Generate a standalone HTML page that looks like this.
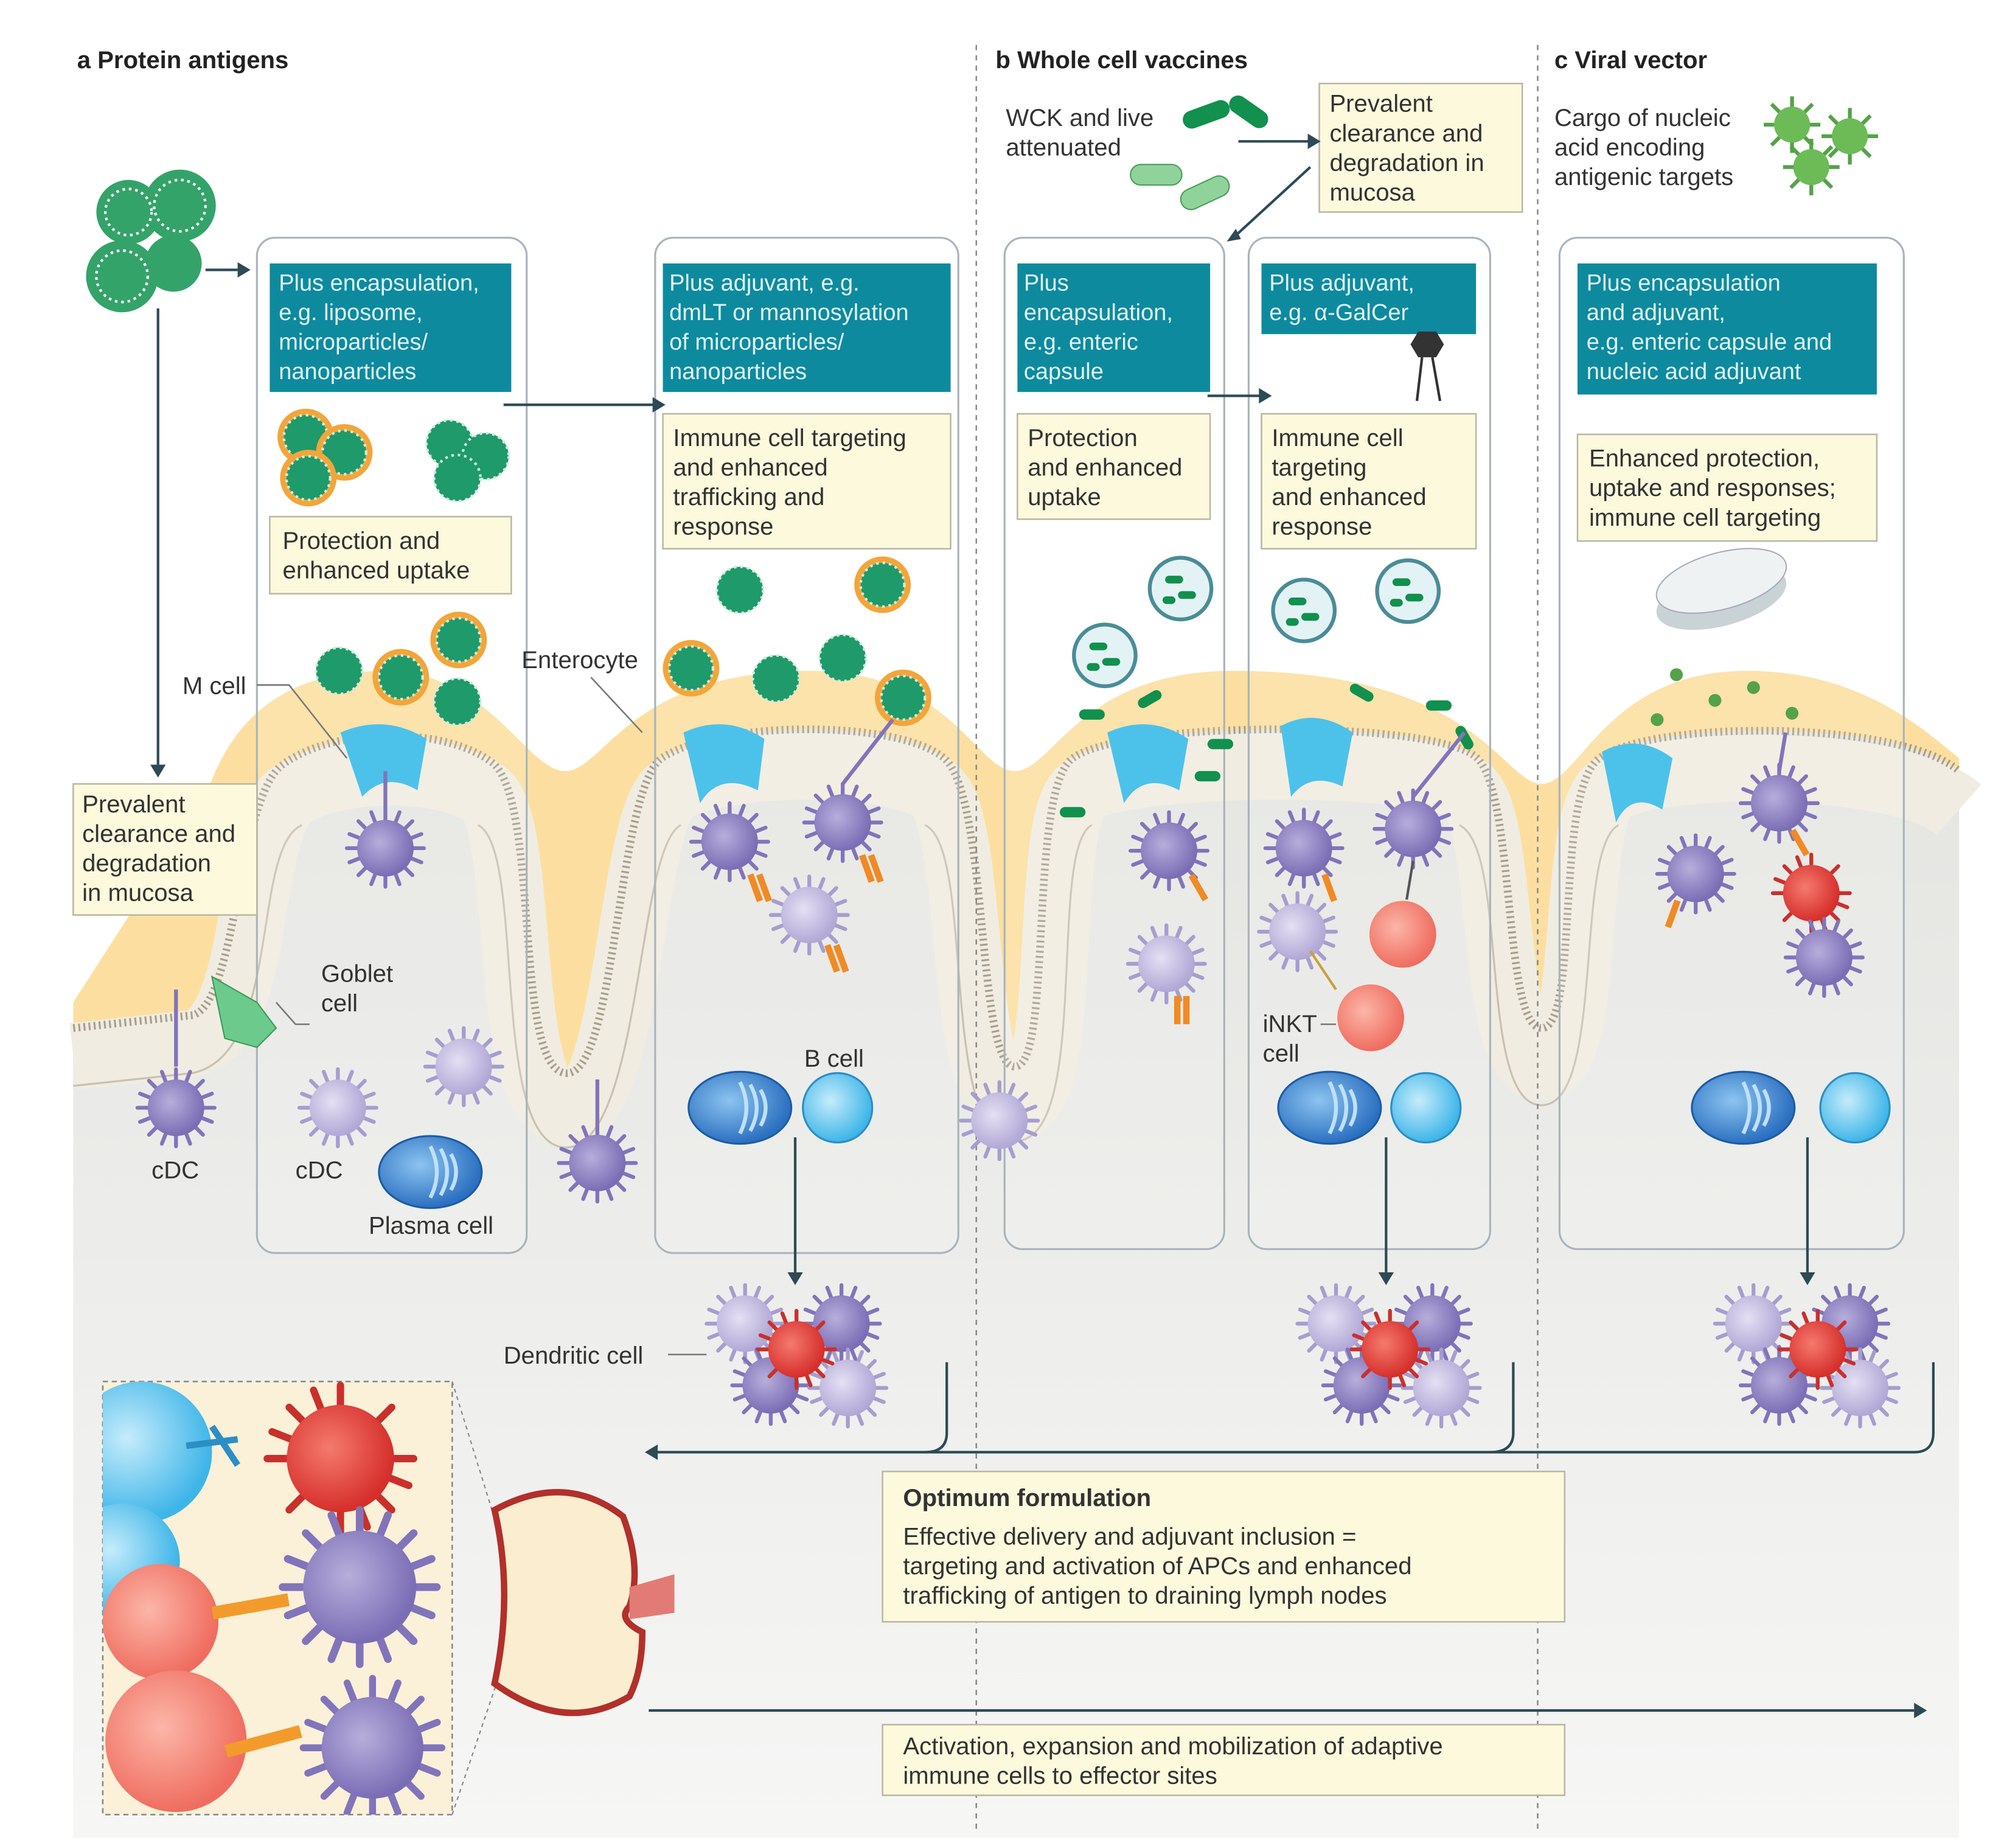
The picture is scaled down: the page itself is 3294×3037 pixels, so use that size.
<!DOCTYPE html>
<html><head><meta charset="utf-8"><style>
html,body{margin:0;padding:0;background:#fff;}
svg{display:block;}
text{font-family:"Liberation Sans",sans-serif;}
</style></head><body>
<svg width="3294" height="3037" viewBox="0 0 1560 1438" preserveAspectRatio="none" xmlns="http://www.w3.org/2000/svg">
<defs>
<linearGradient id="bg" x1="0" y1="0" x2="0" y2="1"><stop offset="0" stop-color="#e4e5e1"/><stop offset="1" stop-color="#f6f6f5"/></linearGradient>
<radialGradient id="dc" cx="0.4" cy="0.4" r="0.6"><stop offset="0" stop-color="#b7aedb"/><stop offset="1" stop-color="#7b6db5"/></radialGradient>
<radialGradient id="dcl" cx="0.4" cy="0.4" r="0.6"><stop offset="0" stop-color="#e4e0f3"/><stop offset="1" stop-color="#b1a8d6"/></radialGradient>
<radialGradient id="red" cx="0.4" cy="0.4" r="0.6"><stop offset="0" stop-color="#f47a6e"/><stop offset="1" stop-color="#d62f2b"/></radialGradient>
<radialGradient id="pink" cx="0.4" cy="0.4" r="0.6"><stop offset="0" stop-color="#fbb6a8"/><stop offset="1" stop-color="#ef6d60"/></radialGradient>
<radialGradient id="bl" cx="0.4" cy="0.4" r="0.6"><stop offset="0" stop-color="#c6ecfb"/><stop offset="1" stop-color="#3eb5e8"/></radialGradient>
<radialGradient id="pl" cx="0.4" cy="0.4" r="0.6"><stop offset="0" stop-color="#8cc4f0"/><stop offset="1" stop-color="#2b6fc0"/></radialGradient>
<g id="DC"><g stroke="#8174bb" stroke-width="3" stroke-linecap="round"><line x1="-30" y1="0" x2="30" y2="0"/><line x1="0" y1="-30" x2="0" y2="30"/><line x1="-21" y1="-21" x2="21" y2="21"/><line x1="-21" y1="21" x2="21" y2="-21"/><line x1="-11" y1="-28" x2="11" y2="28"/><line x1="-28" y1="-11" x2="28" y2="11"/><line x1="11" y1="-28" x2="-11" y2="28"/><line x1="28" y1="-11" x2="-28" y2="11"/></g><circle r="22" fill="url(#dc)"/></g>
<g id="DCL"><g stroke="#a69dd0" stroke-width="3" stroke-linecap="round"><line x1="-30" y1="0" x2="30" y2="0"/><line x1="0" y1="-30" x2="0" y2="30"/><line x1="-21" y1="-21" x2="21" y2="21"/><line x1="-21" y1="21" x2="21" y2="-21"/><line x1="-11" y1="-28" x2="11" y2="28"/><line x1="-28" y1="-11" x2="28" y2="11"/><line x1="11" y1="-28" x2="-11" y2="28"/><line x1="28" y1="-11" x2="-28" y2="11"/></g><circle r="22" fill="url(#dcl)"/></g>
<g id="DCR"><g stroke="#c9302c" stroke-width="3" stroke-linecap="round"><line x1="-30" y1="0" x2="30" y2="0"/><line x1="0" y1="-30" x2="0" y2="30"/><line x1="-21" y1="-21" x2="21" y2="21"/><line x1="-21" y1="21" x2="21" y2="-21"/><line x1="-11" y1="-28" x2="11" y2="28"/><line x1="-28" y1="-11" x2="28" y2="11"/></g><circle r="22" fill="url(#red)"/></g>
<g id="NP"><circle r="22" fill="#f2a53a"/><circle r="17" fill="#1f9a6a"/><circle r="17" fill="none" stroke="#cfeee0" stroke-width="2" stroke-dasharray="2 3"/></g>
<g id="NPG"><circle r="18" fill="#1f9a6a"/><circle r="18" fill="none" stroke="#cfeee0" stroke-width="2" stroke-dasharray="2 3"/></g>
<g id="CAP"><circle r="24" fill="#e3f3f5" stroke="#4a8c97" stroke-width="3"/><rect x="-12" y="-10" width="14" height="6" rx="3" fill="#11904e"/><rect x="-2" y="2" width="14" height="6" rx="3" fill="#11904e"/><rect x="-14" y="6" width="10" height="6" rx="3" fill="#11904e"/></g>
<g id="BC"><circle r="27" fill="url(#bl)" stroke="#2b8fc6" stroke-width="1.5"/></g>
<g id="PC"><ellipse rx="40" ry="28" fill="url(#pl)" stroke="#1c5ca6" stroke-width="1.5"/><path d="M0,-20 q10,20 0,40 M8,-18 q10,18 0,36 M16,-14 q8,14 0,28" stroke="#bfe0fb" stroke-width="3" fill="none"/></g>
<g id="VIR"><g stroke="#55a24a" stroke-width="3"><line x1="-22" y1="0" x2="22" y2="0"/><line x1="0" y1="-22" x2="0" y2="22"/><line x1="-16" y1="-16" x2="16" y2="16"/><line x1="-16" y1="16" x2="16" y2="-16"/></g><circle r="14" fill="#6dbb57"/></g>
</defs>

<!-- mucus -->
<path d="M160,620 C180,560 220,522 300,522 C380,522 410,600 440,600 C470,600 490,522 630,522 C740,522 760,600 790,600 C820,600 840,522 960,522 C1150,522 1170,610 1200,610 C1230,610 1250,522 1360,522 C1450,522 1500,570 1525,590 L1525,900 L57,900 L57,780 Z" fill="#fcdfa0"/>
<!-- tissue below apical surface -->
<path d="M57,800 L150,790 C185,780 185,620 220,595 C260,565 350,565 385,595 C420,630 400,830 440,835 C480,840 480,615 515,590 C560,560 700,560 735,590 C770,620 760,830 790,830 C820,830 800,615 835,590 C875,560 1120,560 1150,590 C1180,620 1170,800 1200,800 C1230,800 1210,615 1245,590 C1285,560 1480,560 1525,600 L1525,1430 L57,1430 Z" fill="url(#bg)"/>
<!-- epithelium -->
<path d="M57,822 L150,812 C205,800 190,640 228,618 C265,595 345,595 378,618 C410,645 390,860 440,865 C490,870 490,640 522,615 C565,590 695,590 728,615 C760,640 745,860 790,860 C835,860 810,640 842,615 C880,590 1115,590 1143,615 C1172,640 1160,830 1200,830 C1240,830 1222,640 1252,615 C1290,590 1480,590 1525,630" fill="none" stroke="#f1ece1" stroke-width="52"/>
<path d="M57,800 L150,790 C185,780 185,620 220,595 C260,565 350,565 385,595 C420,630 400,830 440,835 C480,840 480,615 515,590 C560,560 700,560 735,590 C770,620 760,830 790,830 C820,830 800,615 835,590 C875,560 1120,560 1150,590 C1180,620 1170,800 1200,800 C1230,800 1210,615 1245,590 C1285,560 1480,560 1525,600" fill="none" stroke="#a89f8e" stroke-width="6" stroke-dasharray="1.5 2.5"/>
<path d="M57,845 L150,835 C220,820 195,660 235,642 M372,642 C410,660 380,890 440,893 C500,893 495,660 530,642 M720,642 C760,660 730,888 790,888 C850,888 815,660 850,642 M1136,642 C1175,660 1150,860 1200,860 C1250,860 1225,660 1260,642" fill="none" stroke="#c9c1b0" stroke-width="1.5"/>

<!-- dashed dividers -->
<line x1="760" y1="35" x2="760" y2="1425" stroke="#888" stroke-width="1.2" stroke-dasharray="4 4"/>
<line x1="1197" y1="35" x2="1197" y2="1425" stroke="#888" stroke-width="1.2" stroke-dasharray="4 4"/>

<!-- panel columns -->
<g fill="#ffffff" fill-opacity="0.12" stroke="#a9b4bb" stroke-width="1.5">
<rect x="200" y="185" width="210" height="790" rx="14"/>
<rect x="510" y="185" width="236" height="790" rx="14"/>
<rect x="782" y="185" width="171" height="787" rx="14"/>
<rect x="972" y="185" width="188" height="787" rx="14"/>
<rect x="1214" y="185" width="268" height="787" rx="14"/>
</g>

<!-- headers -->
<g font-size="19" font-weight="bold" fill="#222">
<text x="60" y="53">a  Protein antigens</text>
<text x="775" y="53">b  Whole cell vaccines</text>
<text x="1210" y="53">c  Viral vector</text>
</g>

<!-- teal boxes -->
<g fill="#0e8a9e">
<rect x="210" y="205" width="188" height="100"/>
<rect x="516" y="205" width="224" height="100"/>
<rect x="792" y="205" width="150" height="100"/>
<rect x="982" y="205" width="167" height="55"/>
<rect x="1228" y="205" width="233" height="102"/>
</g>
<g font-size="18" fill="#dff4f6" font-family="Liberation Serif">
<text x="217" y="226">Plus encapsulation,</text><text x="217" y="249">e.g. liposome,</text><text x="217" y="272">microparticles/</text><text x="217" y="295">nanoparticles</text>
<text x="521" y="226">Plus adjuvant, e.g.</text><text x="521" y="249">dmLT or mannosylation</text><text x="521" y="272">of microparticles/</text><text x="521" y="295">nanoparticles</text>
<text x="797" y="226">Plus</text><text x="797" y="249">encapsulation,</text><text x="797" y="272">e.g. enteric</text><text x="797" y="295">capsule</text>
<text x="988" y="226">Plus adjuvant,</text><text x="988" y="249">e.g. α-GalCer</text>
<text x="1235" y="226">Plus encapsulation</text><text x="1235" y="249">and adjuvant,</text><text x="1235" y="272">e.g. enteric capsule and</text><text x="1235" y="295">nucleic acid adjuvant</text>
</g>
<!-- alpha-galcer glyph -->
<polygon points="1104,258 1118,258 1124,268 1118,278 1104,278 1098,268" fill="#333"/>
<path d="M1107,278 L1103,312 M1115,278 L1121,312" stroke="#333" stroke-width="2"/>

<!-- yellow boxes -->
<g fill="#fcf9dd" stroke="#b9b7a5" stroke-width="1.2">
<rect x="1027" y="65" width="158" height="100"/>
<rect x="210" y="402" width="188" height="60"/>
<rect x="516" y="322" width="224" height="105"/>
<rect x="792" y="322" width="150" height="82"/>
<rect x="982" y="322" width="167" height="105"/>
<rect x="1228" y="338" width="233" height="83"/>
<rect x="57" y="610" width="143" height="102"/>
<rect x="687" y="1145" width="531" height="117"/>
<rect x="687" y="1342" width="531" height="55"/>
</g>
<g font-size="19" fill="#333">
<text x="1035" y="87">Prevalent</text><text x="1035" y="110">clearance and</text><text x="1035" y="133">degradation in</text><text x="1035" y="156">mucosa</text>
<text x="220" y="427">Protection and</text><text x="220" y="450">enhanced uptake</text>
<text x="524" y="347">Immune cell targeting</text><text x="524" y="370">and enhanced</text><text x="524" y="393">trafficking and</text><text x="524" y="416">response</text>
<text x="800" y="347">Protection</text><text x="800" y="370">and enhanced</text><text x="800" y="393">uptake</text>
<text x="990" y="347">Immune cell</text><text x="990" y="370">targeting</text><text x="990" y="393">and enhanced</text><text x="990" y="416">response</text>
<text x="1237" y="363">Enhanced protection,</text><text x="1237" y="386">uptake and responses;</text><text x="1237" y="409">immune cell targeting</text>
<text x="64" y="632">Prevalent</text><text x="64" y="655">clearance and</text><text x="64" y="678">degradation</text><text x="64" y="701">in mucosa</text>
<text x="703" y="1172" font-weight="bold">Optimum formulation</text>
<text x="703" y="1202">Effective delivery and adjuvant inclusion =</text><text x="703" y="1225">targeting and activation of APCs and enhanced</text><text x="703" y="1248">trafficking of antigen to draining lymph nodes</text>
<text x="703" y="1365">Activation, expansion and mobilization of adaptive</text><text x="703" y="1388">immune cells to effector sites</text>
<text x="783" y="98">WCK and live</text><text x="783" y="121">attenuated</text>
<text x="1210" y="98">Cargo of nucleic</text><text x="1210" y="121">acid encoding</text><text x="1210" y="144">antigenic targets</text>
<text x="142" y="540">M cell</text>
<text x="406" y="520">Enterocyte</text>
<text x="250" y="764">Goblet</text><text x="250" y="787">cell</text>
<text x="118" y="917">cDC</text><text x="230" y="917">cDC</text>
<text x="287" y="960">Plasma cell</text>
<text x="626" y="830">B cell</text>
<text x="392" y="1061">Dendritic cell</text>
<text x="983" y="803">iNKT</text><text x="983" y="826">cell</text>
</g>

<!-- leader lines -->
<g stroke="#777" stroke-width="1.2" fill="none">
<path d="M200,533 H225 L270,590"/>
<path d="M460,527 L500,570"/>
<path d="M241,797 H230 L215,780"/>
<path d="M520,1054 H550"/>
<path d="M1028,797 H1040"/>
</g>

<!-- arrows -->
<g stroke="#2d4a55" stroke-width="2" fill="none">
<path d="M160,210 H185"/>
<path d="M123,240 V595"/>
<path d="M392,315 H510"/>
<path d="M940,308 H982"/>
<path d="M964,110 H1020"/>
<path d="M1020,130 L960,185"/>
<path d="M619,885 V990"/>
<path d="M1079,885 V990"/>
<path d="M1407,885 V990"/>
<path d="M737,1060 V1115 Q737,1130 720,1130 H510"/>
<path d="M1178,1060 V1115 Q1178,1130 1160,1130"/>
<path d="M1505,1060 V1115 Q1505,1130 1490,1130 H720"/>
<path d="M505,1331 H1490"/>
</g>
<g fill="#2d4a55">
<path d="M185,204 L195,210 L185,216Z"/><path d="M117,595 L123,605 L129,595Z"/>
<path d="M508,309 L518,315 L508,321Z"/><path d="M980,302 L990,308 L980,314Z"/>
<path d="M1018,104 L1028,110 L1018,116Z"/><path d="M955,188 L962,178 L966,186Z"/>
<path d="M613,990 L619,1000 L625,990Z"/><path d="M1073,990 L1079,1000 L1085,990Z"/><path d="M1401,990 L1407,1000 L1413,990Z"/>
<path d="M512,1124 L502,1130 L512,1136Z"/><path d="M1490,1325 L1500,1331 L1490,1337Z"/>
</g>

<!-- antigen cluster -->
<g fill="#1f9a5a" opacity="0.9">
<circle cx="100" cy="165" r="25"/><circle cx="140" cy="160" r="28"/><circle cx="95" cy="215" r="28"/><circle cx="135" cy="205" r="22"/>
</g>
<g stroke="#fff" stroke-width="2" stroke-dasharray="2 3" fill="none"><circle cx="100" cy="165" r="18"/><circle cx="140" cy="160" r="20"/><circle cx="95" cy="215" r="20"/></g>

<!-- bacteria -->
<rect x="920" y="82" width="38" height="14" rx="7" fill="#11904e" transform="rotate(-20 939 89)"/>
<rect x="955" y="80" width="34" height="14" rx="7" fill="#11904e" transform="rotate(35 972 87)"/>
<rect x="880" y="128" width="40" height="16" rx="8" fill="#8fd39a" stroke="#4a9c5a"/>
<rect x="918" y="142" width="40" height="16" rx="8" fill="#8fd39a" stroke="#4a9c5a" transform="rotate(-25 938 150)"/>
<use href="#VIR" x="1395" y="97"/><use href="#VIR" x="1440" y="106"/><use href="#VIR" x="1410" y="130"/>

<!-- nanoparticles -->
<use href="#NP" x="238" y="340"/><use href="#NP" x="268" y="352"/><use href="#NP" x="240" y="372"/>
<use href="#NPG" x="350" y="345"/><use href="#NPG" x="378" y="355"/><use href="#NPG" x="356" y="372"/>
<use href="#NPG" x="264" y="522"/><use href="#NP" x="312" y="527"/><use href="#NP" x="357" y="498"/><use href="#NPG" x="356" y="546"/>
<use href="#NPG" x="576" y="459"/><use href="#NP" x="687" y="455"/><use href="#NP" x="538" y="520"/><use href="#NPG" x="604" y="528"/><use href="#NPG" x="656" y="512"/><use href="#NP" x="703" y="543"/>
<use href="#CAP" x="919" y="458"/><use href="#CAP" x="860" y="510"/><use href="#CAP" x="1015" y="475"/><use href="#CAP" x="1096" y="460"/>
<!-- pill -->
<ellipse cx="1340" cy="465" rx="52" ry="22" fill="#c9d3d6" transform="rotate(-15 1340 465)"/>
<ellipse cx="1340" cy="452" rx="52" ry="22" fill="#eef2f3" stroke="#aab" transform="rotate(-15 1340 452)"/>
<g fill="#55a24a"><circle cx="1305" cy="525" r="5"/><circle cx="1335" cy="545" r="5"/><circle cx="1365" cy="535" r="5"/><circle cx="1290" cy="560" r="5"/><circle cx="1395" cy="555" r="5"/></g>
<!-- green rods scattered -->
<g fill="#11904e">
<rect x="840" y="552" width="20" height="8" rx="4"/><rect x="885" y="540" width="20" height="8" rx="4" transform="rotate(-30 895 544)"/><rect x="940" y="575" width="20" height="8" rx="4"/><rect x="825" y="628" width="20" height="8" rx="4"/><rect x="930" y="600" width="20" height="8" rx="4"/>
<rect x="1050" y="535" width="20" height="8" rx="4" transform="rotate(30 1060 539)"/><rect x="1110" y="545" width="20" height="8" rx="4"/><rect x="1130" y="570" width="20" height="8" rx="4" transform="rotate(60 1140 574)"/>
</g>

<!-- M cells -->
<path d="M265,570 Q300,555 332,575 L325,615 Q300,600 282,620 Z" fill="#4cc2ea"/>
<path d="M532,570 Q565,555 595,575 L590,615 Q560,600 545,625 Z" fill="#4cc2ea"/>
<path d="M862,570 Q895,555 925,575 L918,615 Q890,600 875,625 Z" fill="#4cc2ea"/>
<path d="M997,565 Q1025,550 1053,570 L1045,612 Q1020,600 1005,620 Z" fill="#4cc2ea"/>
<path d="M1247,585 Q1275,570 1302,590 L1294,630 Q1270,615 1258,640 Z" fill="#4cc2ea"/>

<!-- dendritic cells -->
<g stroke="#8174bb" stroke-width="3"><line x1="137" y1="830" x2="137" y2="770"/><line x1="465" y1="875" x2="465" y2="840"/><line x1="300" y1="630" x2="300" y2="600"/><line x1="656" y1="610" x2="695" y2="560"/><line x1="1100" y1="620" x2="1140" y2="570"/><line x1="1385" y1="600" x2="1390" y2="570"/></g>
<use href="#DC" x="300" y="660"/><use href="#DC" x="137" y="862"/>
<use href="#DCL" x="263" y="862"/><use href="#DCL" x="361" y="830"/><use href="#DC" x="465" y="905"/>
<use href="#DC" x="568" y="655"/><use href="#DC" x="656" y="640"/><use href="#DCL" x="630" y="712"/>
<use href="#DC" x="910" y="662"/><use href="#DCL" x="908" y="750"/><use href="#DCL" x="778" y="872"/>
<use href="#DC" x="1015" y="660"/><use href="#DC" x="1100" y="645"/><use href="#DCL" x="1010" y="725"/>
<use href="#DC" x="1320" y="680"/><use href="#DC" x="1385" y="625"/><use href="#DCR" x="1410" y="695"/><use href="#DC" x="1420" y="745"/>
<!-- orange receptors -->
<g fill="#f08a24"><rect x="585" y="680" width="5" height="22" transform="rotate(-20 587 690)"/><rect x="592" y="680" width="5" height="22" transform="rotate(-20 594 690)"/><rect x="672" y="665" width="5" height="22" transform="rotate(-20 674 675)"/><rect x="679" y="665" width="5" height="22" transform="rotate(-20 681 675)"/><rect x="645" y="735" width="5" height="22" transform="rotate(-20 647 745)"/><rect x="652" y="735" width="5" height="22" transform="rotate(-20 654 745)"/><rect x="930" y="680" width="5" height="22" transform="rotate(-30 932 690)"/><rect x="914" y="775" width="5" height="22"/><rect x="921" y="775" width="5" height="22"/><rect x="1032" y="680" width="5" height="22" transform="rotate(-20 1034 690)"/><rect x="1300" y="700" width="5" height="22" transform="rotate(20 1302 710)"/><rect x="1398" y="645" width="5" height="22" transform="rotate(-30 1400 655)"/></g>
<!-- iNKT cells -->
<circle cx="1092" cy="727" r="26" fill="url(#pink)"/><circle cx="1067" cy="792" r="26" fill="url(#pink)"/>
<line x1="1040" y1="770" x2="1020" y2="740" stroke="#c9a03a" stroke-width="2"/><line x1="1095" y1="700" x2="1100" y2="670" stroke="#555" stroke-width="2"/>
<!-- goblet cell -->
<path d="M165,760 L200,780 L215,800 L200,815 L175,808 Z" fill="#6ccb8c" stroke="#3a9a5a"/>
<!-- B & plasma cells -->
<use href="#PC" x="335" y="912"/>
<use href="#PC" x="576" y="862"/><use href="#BC" x="652" y="862"/>
<use href="#PC" x="1035" y="862"/><use href="#BC" x="1110" y="862"/>
<use href="#PC" x="1357" y="862"/><use href="#BC" x="1444" y="862"/>

<!-- DC clusters -->
<use href="#DCL" x="580" y="1030"/><use href="#DC" x="655" y="1030"/><use href="#DC" x="600" y="1078"/><use href="#DCL" x="660" y="1080"/><use href="#DCR" x="620" y="1050"/>
<use href="#DCL" x="1040" y="1030"/><use href="#DC" x="1115" y="1030"/><use href="#DC" x="1060" y="1078"/><use href="#DCL" x="1122" y="1080"/><use href="#DCR" x="1082" y="1050"/>
<use href="#DCL" x="1365" y="1030"/><use href="#DC" x="1440" y="1030"/><use href="#DC" x="1385" y="1078"/><use href="#DCL" x="1448" y="1080"/><use href="#DCR" x="1415" y="1050"/>

<!-- inset -->
<rect x="80" y="1075" width="272" height="337" fill="#fbf1d8" stroke="#888" stroke-width="1.2" stroke-dasharray="4 3"/>
<svg x="80" y="1075" width="272" height="337" viewBox="80 1075 272 337">
<circle cx="110" cy="1130" r="55" fill="url(#bl)"/><circle cx="95" cy="1215" r="45" fill="url(#bl)"/>
<circle cx="125" cy="1262" r="45" fill="url(#pink)"/><circle cx="137" cy="1355" r="55" fill="url(#pink)"/>
<g transform="translate(265,1135) scale(1.9)"><use href="#DCR"/></g>
<g transform="translate(280,1235) scale(2)"><use href="#DC"/></g>
<g transform="translate(290,1360) scale(1.8)"><use href="#DC"/></g>
<rect x="165" y="1245" width="60" height="10" fill="#f29b2c" transform="rotate(-10 195 1250)"/>
<rect x="175" y="1350" width="60" height="10" fill="#f29b2c" transform="rotate(-15 205 1355)"/>
<path d="M145,1125 L185,1120 M165,1110 L185,1140" stroke="#2b8fc6" stroke-width="5"/>
</svg>
<!-- zoom lines -->
<g stroke="#888" stroke-width="1" stroke-dasharray="3 3" fill="none"><path d="M352,1075 L400,1230 M352,1412 L400,1270"/><rect x="400" y="1230" width="40" height="40"/></g>
<!-- lymph node -->
<path d="M385,1175 Q440,1145 485,1180 Q500,1220 490,1250 Q480,1260 500,1270 Q500,1300 490,1320 Q440,1350 385,1310 Q400,1240 385,1175Z" fill="#fbeed0" stroke="#b2302b" stroke-width="5"/>
<path d="M490,1235 L525,1225 L525,1255 L490,1260Z" fill="#e27b75"/>
</svg>
</body></html>
